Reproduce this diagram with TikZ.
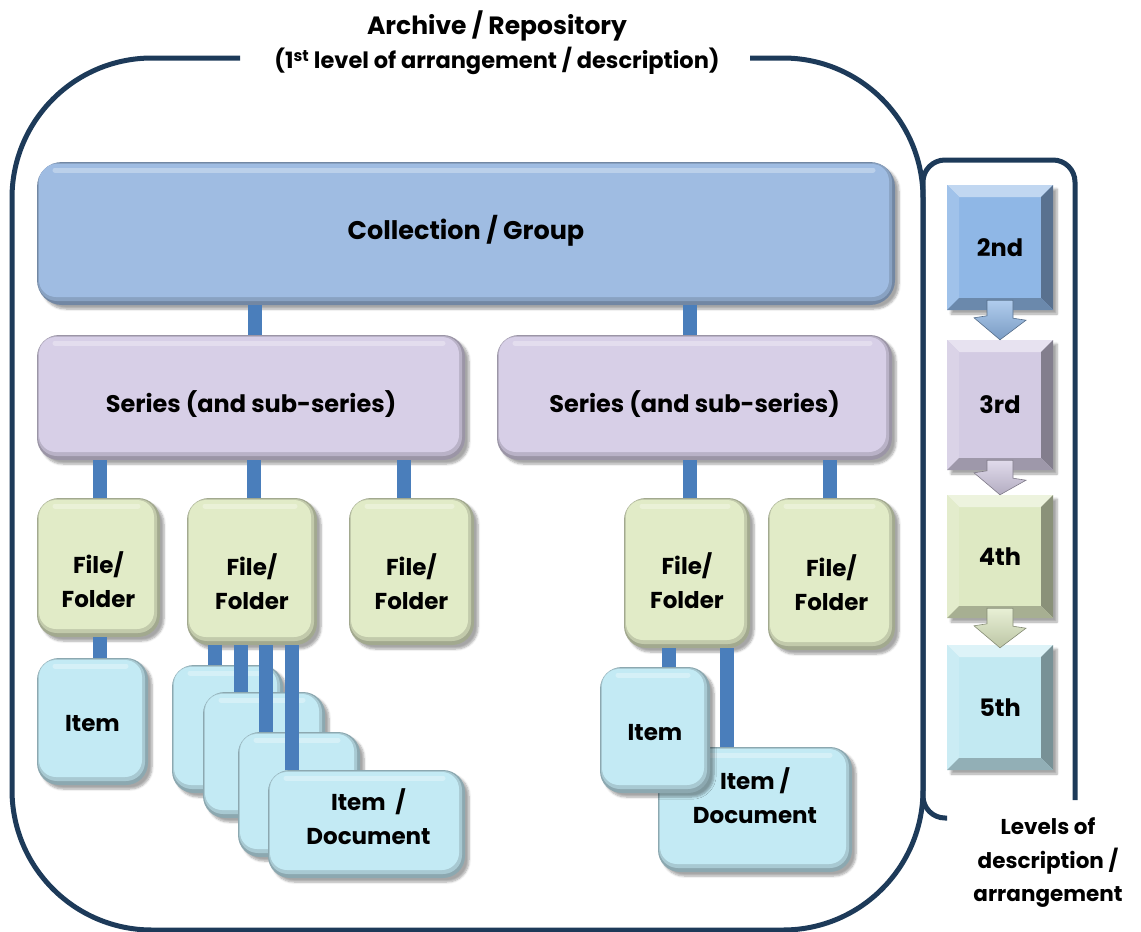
\documentclass[tikz,border=0pt]{standalone}
\usepackage{fontspec}
\setmainfont{Poppins}
\usetikzlibrary{shadows.blur,calc}
\definecolor{cblue}{HTML}{9FBCE2}
\definecolor{clav}{HTML}{D7CFE7}
\definecolor{cgrn}{HTML}{E1EBC7}
\definecolor{ccyan}{HTML}{C3EAF4}
\definecolor{sqblue}{HTML}{8FB7E6}
\definecolor{sqlav}{HTML}{D3CBE3}
\definecolor{sqgrn}{HTML}{DEE9C3}
\definecolor{sqcyan}{HTML}{C2E9F2}
\definecolor{barblue}{HTML}{4A7EBB}
\definecolor{framecol}{HTML}{1D3A59}
\tikzset{
  gbox/.style={rounded corners=22pt, draw=none, fill=#1!72!black, inner sep=0pt, align=center,
    blur shadow={shadow xshift=4pt, shadow yshift=-4pt, shadow opacity=35, shadow blur steps=6},
    path picture={
      \fill[#1!86!black, rounded corners=19pt]
        ([shift={(1pt,-1pt)}]path picture bounding box.north west) rectangle
        ([shift={(-3pt,4pt)}]path picture bounding box.south east);
      \fill[#1, rounded corners=17pt]
        ([shift={(2pt,-2pt)}]path picture bounding box.north west) rectangle
        ([shift={(-6pt,8pt)}]path picture bounding box.south east);
      \draw[white, opacity=.3, line width=5pt, line cap=round]
        ([shift={(18pt,-8pt)}]path picture bounding box.north west) --
        ([shift={(-22pt,-8pt)}]path picture bounding box.north east);
    }},
  tl/.style={align=center},
  sqbox/.style={draw=none, fill=#1, inner sep=0pt, minimum width=106pt,
    font=\bfseries\fontsize{24}{30}\selectfont,
    blur shadow={shadow xshift=4pt, shadow yshift=-4pt, shadow opacity=35, shadow blur steps=6},
    path picture={
      \coordinate (pnw) at (path picture bounding box.north west);
      \coordinate (pne) at (path picture bounding box.north east);
      \coordinate (psw) at (path picture bounding box.south west);
      \coordinate (pse) at (path picture bounding box.south east);
      \fill[#1!55!white] (pnw) -- (pne) -- ([shift={(-12pt,-12pt)}]pne) -- ([shift={(12pt,-12pt)}]pnw) -- cycle;
      \fill[#1!85!white] (pnw) -- (psw) -- ([shift={(12pt,12pt)}]psw) -- ([shift={(12pt,-12pt)}]pnw) -- cycle;
      \fill[#1!62!black] (pne) -- (pse) -- ([shift={(-12pt,12pt)}]pse) -- ([shift={(-12pt,-12pt)}]pne) -- cycle;
      \fill[#1!75!black] (psw) -- (pse) -- ([shift={(-12pt,12pt)}]pse) -- ([shift={(12pt,12pt)}]psw) -- cycle;
    }},
  bar/.style={draw=barblue, line width=14pt},
  framestyle/.style={draw=framecol, line width=5pt},
  dnarrow/.style={draw=#1!60!black, line width=0.6pt, top color=#1!70!white, bottom color=#1!85!black},
  bigfont/.style={font=\bfseries\fontsize{24}{34}\selectfont},
}
\begin{document}
\begin{tikzpicture}[x=1pt, y=-1pt, font=\bfseries\fontsize{23}{34}\selectfont]
\useasboundingbox (0,0) rectangle (1141,932);

% frames
\draw[framestyle, rounded corners=140pt] (750,58) -- (923,58) -- (923,930) -- (12,930) -- (12,58) -- (240,58);
\draw[framestyle, rounded corners=22pt] (947,818) -- (923,818) -- (923,160) -- (1075,160) -- (1075,800);

% title
\node[align=center] (title) at (497,43)
  {{\fontsize{25}{35}\selectfont Archive / Repository}\\{\fontsize{22.5}{35}\selectfont (1\textsuperscript{st} level of arrangement / description)}};

% main hierarchy
\node[gbox=cblue, minimum width=858pt, minimum height=143pt, rounded corners=25pt,
      label={[tl, font=\bfseries\fontsize{25.5}{34}\selectfont, yshift=3pt]center:{Collection / Group}}] (coll) at (466,233.5) {};
\node[gbox=clav, minimum width=428pt, minimum height=125pt,
      label={[tl, bigfont, yshift=-7pt]center:{Series (and sub-series)}}] (serL) at (251,397.5) {};
\node[gbox=clav, minimum width=395pt, minimum height=125pt,
      label={[tl, bigfont, yshift=-7pt]center:{Series (and sub-series)}}] (serR) at (694.5,397.5) {};

\node[gbox=cgrn, minimum width=123pt, minimum height=139pt,
      label={[tl, yshift=-12pt]center:{File/\\Folder}}] (f1) at (98.5,567.5) {};
\node[gbox=cgrn, minimum width=130pt, minimum height=147pt,
      label={[tl, yshift=-10pt]center:{File/\\Folder}}] (f2) at (252,571.5) {};
\node[gbox=cgrn, minimum width=125pt, minimum height=147pt,
      label={[tl, yshift=-10pt]center:{File/\\Folder}}] (f3) at (411.5,571.5) {};
\node[gbox=cgrn, minimum width=126pt, minimum height=150pt,
      label={[tl, yshift=-8pt]center:{File/\\Folder}}] (f4) at (687,573) {};
\node[gbox=cgrn, minimum width=127pt, minimum height=152pt,
      label={[tl, yshift=-9pt]center:{File/\\Folder}}] (f5) at (831.5,574) {};

\node[gbox=ccyan, minimum width=111pt, minimum height=127pt,
      label={[tl, yshift=-2pt]center:{Item}}] (i1) at (92.5,721.5) {};
\node[gbox=ccyan, minimum width=111pt, minimum height=128pt] (s1) at (227.5,729) {};
\node[gbox=ccyan, minimum width=122pt, minimum height=126pt] (s2) at (264,755) {};
\node[gbox=ccyan, minimum width=122pt, minimum height=125pt] (s3) at (299,794.5) {};
\node[gbox=ccyan, minimum width=197pt, minimum height=108pt,
      label={[tl, xshift=2pt, yshift=7pt]center:{Item~~/\\Document}}] (s4) at (366.5,824) {};

\node[gbox=ccyan, minimum width=194pt, minimum height=125pt,
      label={[tl, yshift=14pt]center:{Item /\\Document}}] (id) at (755,809.5) {};
\node[gbox=ccyan, minimum width=110pt, minimum height=126pt,
      label={[tl, yshift=-3pt]center:{Item}}] (i2) at (655,730) {};

% connectors
\draw[bar] (255,0 |- coll.south) -- (255,0 |- serL.north);
\draw[bar] (690,0 |- coll.south) -- (690,0 |- serR.north);
\draw[bar] (100,0 |- serL.south) -- (100,0 |- f1.north);
\draw[bar] (254,0 |- serL.south) -- (254,0 |- f2.north);
\draw[bar] (404,0 |- serL.south) -- (404,0 |- f3.north);
\draw[bar] (690,0 |- serR.south) -- (690,0 |- f4.north);
\draw[bar] (830,0 |- serR.south) -- (830,0 |- f5.north);
\draw[bar] (100,0 |- f1.south) -- (100,0 |- i1.north);
\draw[bar] (215,0 |- f2.south) -- (215,0 |- s1.north);
\draw[bar] (241,0 |- f2.south) -- (241,0 |- s2.north);
\draw[bar] (266,0 |- f2.south) -- (266,0 |- s3.north);
\draw[bar] (292,0 |- f2.south) -- (292,0 |- s4.north);
\draw[bar] (669,0 |- f4.south) -- (669,0 |- i2.north);
\draw[bar] (727,0 |- f4.south) -- (727,0 |- id.north);

% levels panel
\node[sqbox=sqblue, minimum height=125pt] (l2) at (1000,247.5) {2nd};
\node[sqbox=sqlav, minimum height=130pt] (l3) at (1000,405) {3rd};
\node[sqbox=sqgrn, minimum height=123pt] (l4) at (1000,556.5) {4th};
\node[sqbox=sqcyan, minimum height=125pt] (l5) at (1000,707.5) {5th};

\draw[dnarrow=sqblue] (l2.south) ++(-13,-10) -- ++(26,0) -- ++(0,18) -- ++(13,2) -- (l3.north) -- ++(-26,-22) -- ++(13,-2) -- cycle;
\draw[dnarrow=sqlav] (l3.south) ++(-13,-10) -- ++(26,0) -- ++(0,18) -- ++(13,2) -- (l4.north) -- ++(-26,-22) -- ++(13,-2) -- cycle;
\draw[dnarrow=sqgrn] (l4.south) ++(-13,-10) -- ++(26,0) -- ++(0,18) -- ++(13,2) -- ([yshift=-3pt]l5.north) -- ++(-26,-22) -- ++(13,-2) -- cycle;

\node[align=center, font=\bfseries\fontsize{21.5}{33.5}\selectfont] (levels) at (1048,863) {Levels of\\description /\\arrangement};
\end{tikzpicture}
\end{document}
